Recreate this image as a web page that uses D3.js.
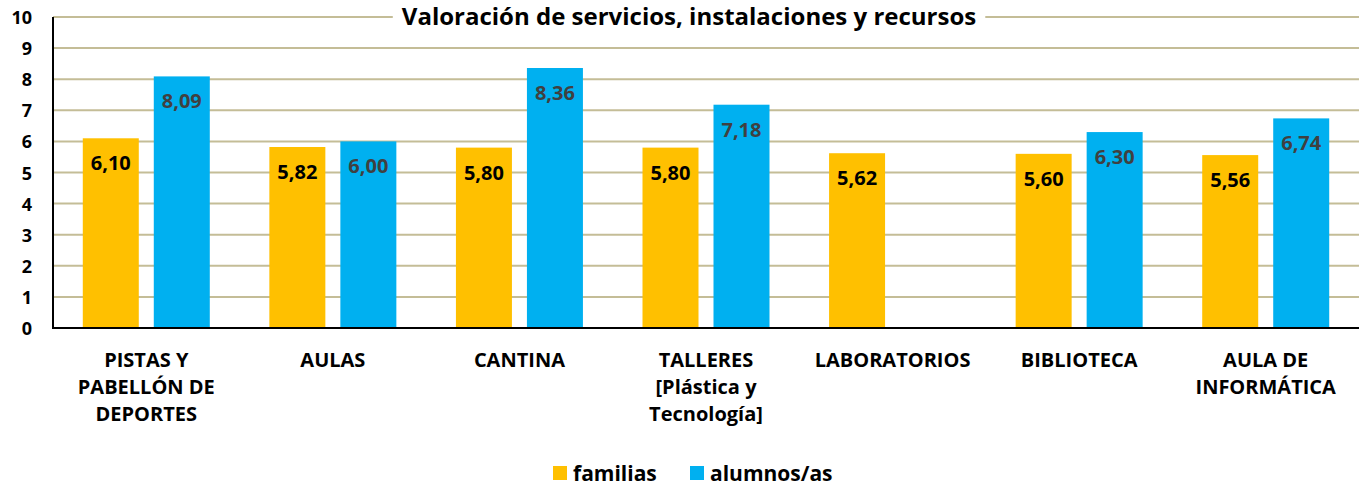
<!DOCTYPE html>
<html><head><meta charset="utf-8">
<script src="https://cdn.jsdelivr.net/npm/d3@7"></script>
<style>body{margin:0;background:#fff}svg{display:block}text{font-family:"Open Sans",sans-serif;font-weight:700}</style>
</head><body><svg id="c" width="1363" height="486"></svg>
<script>
const categories = [["PISTAS Y","PABELLÓN DE","DEPORTES"],["AULAS"],["CANTINA"],["TALLERES","[Plástica y","Tecnología]"],["LABORATORIOS"],["BIBLIOTECA"],["AULA DE","INFORMÁTICA"]];
const familias = [6.10, 5.82, 5.80, 5.80, 5.62, 5.60, 5.56];
const alumnos = [8.09, 6.00, 8.36, 7.18, null, 6.30, 6.74];
const yTicks = [0,1,2,3,4,5,6,7,8,9,10];
const seriesNames = ["familias","alumnos/as"];
const colors = ["#FFC000","#00B0F0"];
const title = "Valoración de servicios, instalaciones y recursos";

const svg = d3.select("#c");
const L = 53, R = 1359, T = 17, B = 328;
const x = d3.scaleBand().domain(d3.range(categories.length)).range([L, R]);
const y = d3.scaleLinear().domain([0, 10]).range([B, T]);
const fmt = v => v.toFixed(2).replace(".", ",");

// gridlines
svg.append("g").selectAll("line").data(yTicks.filter(t => t > 0)).join("line")
  .attr("x1", L).attr("x2", R).attr("y1", d => y(d)).attr("y2", d => y(d))
  .attr("stroke", "#C4BD97").attr("stroke-width", 2);

// title background + title
const tbg = svg.append("rect").attr("fill", "#fff");
const tt = svg.append("text").attr("x", 689).attr("y", 25).attr("text-anchor", "middle")
  .attr("font-size", 24).attr("fill", "#000").text(title);
const bb = tt.node().getBBox();
tbg.attr("x", bb.x - 9).attr("y", 3).attr("width", bb.width + 18).attr("height", 28);

// y axis labels
svg.append("g").selectAll("text").data(yTicks).join("text")
  .attr("x", 32).attr("y", d => y(d) + 7).attr("text-anchor", "end")
  .attr("font-size", 18).attr("fill", "#000").text(d => d);

const bw = 56, gap = 7.5;
const series = [familias, alumnos];
series.forEach((vals, si) => {
  const g = svg.append("g");
  const data = vals.map((v, i) => ({v, i})).filter(d => d.v != null);
  g.selectAll("rect").data(data).join("rect")
    .attr("x", d => si === 0 ? x(d.i) + x.bandwidth()/2 - gap - bw : x(d.i) + x.bandwidth()/2 + gap)
    .attr("y", d => y(d.v)).attr("width", bw).attr("height", d => B - y(d.v))
    .attr("fill", colors[si]);
  g.selectAll("text").data(data).join("text")
    .attr("x", d => si === 0 ? x(d.i) + x.bandwidth()/2 - gap - bw/2 : x(d.i) + x.bandwidth()/2 + gap + bw/2)
    .attr("y", d => y(d.v) + 32).attr("text-anchor", "middle")
    .attr("font-size", 20).attr("fill", si === 0 ? "#000" : "#404040")
    .text(d => fmt(d.v));
});

// axes lines
svg.append("line").attr("x1", L).attr("x2", L).attr("y1", T).attr("y2", B + 1).attr("stroke", "#000").attr("stroke-width", 2);
svg.append("line").attr("x1", L - 1).attr("x2", R).attr("y1", B).attr("y2", B).attr("stroke", "#000").attr("stroke-width", 2);

// category labels
const cg = svg.append("g").selectAll("text").data(categories).join("text")
  .attr("text-anchor", "middle").attr("font-size", 20).attr("fill", "#000");
cg.each(function(lines, i) {
  d3.select(this).selectAll("tspan").data(lines).join("tspan")
    .attr("x", x(i) + x.bandwidth()/2).attr("y", (d, k) => 367 + k * 27).text(d => d);
});

// legend
const lg = svg.append("g");
const lx = [553, 690];
seriesNames.forEach((n, i) => {
  lg.append("rect").attr("x", lx[i]).attr("y", 466).attr("width", 14).attr("height", 14).attr("fill", colors[i]);
  lg.append("text").attr("x", lx[i] + 20).attr("y", 481).attr("font-size", 21).attr("fill", "#000").text(n);
});
</script></body></html>
